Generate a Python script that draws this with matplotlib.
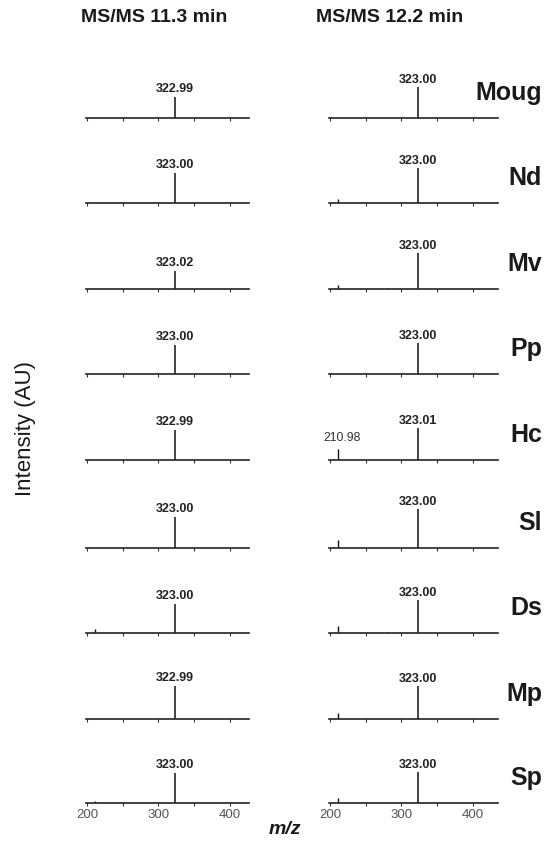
import matplotlib
matplotlib.use("Agg")
import matplotlib.pyplot as plt
from matplotlib.ticker import FixedLocator, FuncFormatter

plt.rcParams['font.family'] = ['Liberation Sans', 'DejaVu Sans']

W, H = 553, 842
species = ["Moug", "Nd", "Mv", "Pp", "Hc", "Sl", "Ds", "Mp", "Sp"]

# Left panel (MS/MS 11.3 min): main peak m/z label and intensity
left_mz = [322.99, 323.00, 323.02, 323.00, 322.99, 323.00, 323.00, 322.99, 323.00]
left_int = [69, 99, 60, 95, 97, 100, 94, 105, 99]
# minor peaks near m/z 210 (left)
left_minor_int = [0, 0, 0, 0, 0, 0, 12, 0, 7]

# Right panel (MS/MS 12.2 min)
right_mz = [323.00, 323.00, 323.00, 323.00, 323.01, 323.00, 323.00, 323.00, 323.00]
right_int = [100, 115, 118, 100, 102, 126, 105, 105, 102]
right_minor_int = [0, 13, 13, 0, 35, 25, 23, 19, 16]
right_minor2_int = [0, 0, 3, 0, 0, 0, 3, 3, 0]
minor_mz = 210.98
minor2_mz = 281.0

baselines_px = [118.3, 203.3, 289.3, 374.3, 460.0, 547.7, 632.7, 718.7, 803.3]
ax_h_px = 50.0
ytop = 100 * ax_h_px / 31.0

fig = plt.figure(figsize=(W / 100, H / 100), dpi=100)

def make_ax(x0, x1, base, xlim, last):
    ax = fig.add_axes([x0 / W, 1 - base / H, (x1 - x0) / W, ax_h_px / H])
    ax.set_xlim(*xlim)
    ax.set_ylim(0, ytop)
    for s in ["top", "right", "left"]:
        ax.spines[s].set_visible(False)
    ax.spines["bottom"].set_linewidth(1.2)
    ax.spines["bottom"].set_color("#222222")
    ax.set_yticks([])
    ax.xaxis.set_major_locator(FixedLocator([200, 250, 300, 350, 400]))
    ax.tick_params(axis="x", direction="out", length=2.5, width=0.8,
                   color="#333333", labelsize=9.5, labelcolor="#555555", pad=1.5)
    if last:
        ax.xaxis.set_major_formatter(FuncFormatter(
            lambda v, p: f"{int(v)}" if int(v) % 100 == 0 else ""))
    else:
        ax.set_xticklabels([])
    ax.patch.set_alpha(0)
    return ax

lbl_kw = dict(textcoords="offset points", ha="center", va="center",
              fontsize=9, fontweight="bold", color="#222222")

n = len(species)
for i in range(n):
    last = i == n - 1
    axl = make_ax(86.3, 249, baselines_px[i], (199, 427), last)
    axl.vlines(left_mz[i], 0, left_int[i], color="#111111", lw=1.1)
    if left_minor_int[i] > 0:
        axl.vlines(minor_mz, 0, left_minor_int[i], color="#111111", lw=1.0)
    axl.annotate(f"{left_mz[i]:.2f}", (left_mz[i], left_int[i]),
                 xytext=(0, 5.6), **lbl_kw)

    axr = make_ax(329.3, 498, baselines_px[i], (199, 435), last)
    axr.vlines(right_mz[i], 0, right_int[i], color="#111111", lw=1.1)
    if right_minor_int[i] > 0:
        axr.vlines(minor_mz, 0, right_minor_int[i], color="#111111", lw=1.0)
    if right_minor2_int[i] > 0:
        axr.vlines(minor2_mz, 0, right_minor2_int[i], color="#111111", lw=0.8)
    axr.annotate(f"{right_mz[i]:.2f}", (right_mz[i], right_int[i]),
                 xytext=(0, 5.0), **lbl_kw)
    if species[i] == "Hc":
        axr.annotate(f"{minor_mz:.2f}", (minor_mz, right_minor_int[i]),
                     xytext=(3, 8), textcoords="offset points", ha="center",
                     va="center", fontsize=8.7, color="#333333")

    fig.text(542 / W, 1 - (baselines_px[i] - 25) / H, species[i],
             ha="right", va="center", fontsize=18, fontweight="bold",
             color="#1a1a1a")

fig.text(154 / W, 1 - 18 / H, "MS/MS 11.3 min", ha="center", va="center",
         fontsize=14, fontweight="bold", color="#1a1a1a")
fig.text(390 / W, 1 - 18 / H, "MS/MS 12.2 min", ha="center", va="center",
         fontsize=14, fontweight="bold", color="#1a1a1a")
fig.text(25 / W, 1 - 429 / H, "Intensity (AU)", ha="center", va="center",
         rotation=90, fontsize=16, color="#1a1a1a")
fig.text(285 / W, 1 - 829 / H, "m/z", ha="center", va="center",
         fontsize=14, fontweight="bold", fontstyle="italic", color="#1a1a1a")

fig.savefig("out.png", dpi=100)
